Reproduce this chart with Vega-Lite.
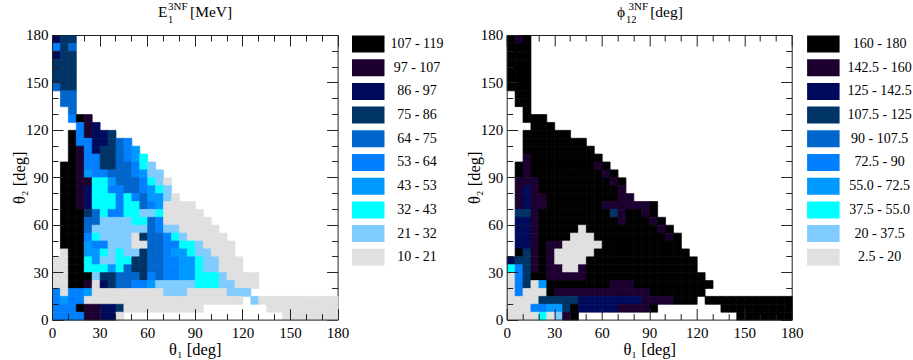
{"$schema":"https://vega.github.io/schema/vega-lite/v6.json","background":"white","padding":{"left":11,"top":0,"right":0,"bottom":0},"config":{"font":"Liberation Serif","view":{"stroke":null}},"spacing":168.7,"bounds":"flush","resolve":{"scale":{"fill":"independent","stroke":"independent"},"legend":{"fill":"independent"}},
"datasets":{"energy":[
{"x":0,"y":175,"c":"C"},{"x":5,"y":175,"c":"D"},{"x":10,"y":175,"c":"D"},
{"x":0,"y":170,"c":"F"},{"x":5,"y":170,"c":"D"},{"x":10,"y":170,"c":"E"},
{"x":0,"y":165,"c":"C"},{"x":5,"y":165,"c":"D"},{"x":10,"y":165,"c":"D"},
{"x":0,"y":160,"c":"D"},{"x":5,"y":160,"c":"D"},{"x":10,"y":160,"c":"D"},
{"x":0,"y":155,"c":"D"},{"x":5,"y":155,"c":"D"},{"x":10,"y":155,"c":"D"},
{"x":0,"y":150,"c":"D"},{"x":5,"y":150,"c":"D"},{"x":10,"y":150,"c":"D"},
{"x":0,"y":145,"c":"E"},{"x":5,"y":145,"c":"D"},{"x":10,"y":145,"c":"D"},
{"x":5,"y":140,"c":"E"},{"x":10,"y":140,"c":"E"},
{"x":5,"y":135,"c":"E"},{"x":10,"y":135,"c":"E"},
{"x":10,"y":130,"c":"E"},
{"x":10,"y":125,"c":"F"},{"x":15,"y":125,"c":"A"},{"x":20,"y":125,"c":"B"},
{"x":15,"y":120,"c":"F"},{"x":20,"y":120,"c":"B"},{"x":25,"y":120,"c":"C"},
{"x":10,"y":115,"c":"A"},{"x":15,"y":115,"c":"F"},{"x":20,"y":115,"c":"B"},{"x":25,"y":115,"c":"C"},{"x":30,"y":115,"c":"C"},{"x":35,"y":115,"c":"D"},
{"x":10,"y":110,"c":"A"},{"x":15,"y":110,"c":"F"},{"x":20,"y":110,"c":"F"},{"x":25,"y":110,"c":"C"},{"x":30,"y":110,"c":"C"},{"x":35,"y":110,"c":"D"},{"x":40,"y":110,"c":"E"},{"x":45,"y":110,"c":"F"},
{"x":10,"y":105,"c":"A"},{"x":15,"y":105,"c":"B"},{"x":20,"y":105,"c":"F"},{"x":25,"y":105,"c":"C"},{"x":30,"y":105,"c":"D"},{"x":35,"y":105,"c":"D"},{"x":40,"y":105,"c":"E"},{"x":45,"y":105,"c":"F"},{"x":50,"y":105,"c":"G"},
{"x":10,"y":100,"c":"A"},{"x":15,"y":100,"c":"B"},{"x":20,"y":100,"c":"F"},{"x":25,"y":100,"c":"F"},{"x":30,"y":100,"c":"D"},{"x":35,"y":100,"c":"D"},{"x":40,"y":100,"c":"E"},{"x":45,"y":100,"c":"F"},{"x":50,"y":100,"c":"G"},{"x":55,"y":100,"c":"H"},
{"x":5,"y":95,"c":"A"},{"x":10,"y":95,"c":"A"},{"x":15,"y":95,"c":"B"},{"x":20,"y":95,"c":"F"},{"x":25,"y":95,"c":"F"},{"x":30,"y":95,"c":"D"},{"x":35,"y":95,"c":"D"},{"x":40,"y":95,"c":"E"},{"x":45,"y":95,"c":"E"},{"x":50,"y":95,"c":"F"},{"x":55,"y":95,"c":"H"},{"x":60,"y":95,"c":"I"},
{"x":5,"y":90,"c":"A"},{"x":10,"y":90,"c":"A"},{"x":15,"y":90,"c":"B"},{"x":20,"y":90,"c":"G"},{"x":25,"y":90,"c":"F"},{"x":30,"y":90,"c":"F"},{"x":35,"y":90,"c":"E"},{"x":40,"y":90,"c":"E"},{"x":45,"y":90,"c":"E"},{"x":50,"y":90,"c":"F"},{"x":55,"y":90,"c":"G"},{"x":60,"y":90,"c":"I"},{"x":65,"y":90,"c":"I"},
{"x":5,"y":85,"c":"A"},{"x":10,"y":85,"c":"A"},{"x":15,"y":85,"c":"B"},{"x":20,"y":85,"c":"B"},{"x":25,"y":85,"c":"H"},{"x":30,"y":85,"c":"H"},{"x":35,"y":85,"c":"G"},{"x":40,"y":85,"c":"E"},{"x":45,"y":85,"c":"E"},{"x":50,"y":85,"c":"E"},{"x":55,"y":85,"c":"F"},{"x":60,"y":85,"c":"H"},{"x":65,"y":85,"c":"I"},{"x":70,"y":85,"c":"J"},
{"x":5,"y":80,"c":"A"},{"x":10,"y":80,"c":"A"},{"x":15,"y":80,"c":"B"},{"x":20,"y":80,"c":"C"},{"x":25,"y":80,"c":"H"},{"x":30,"y":80,"c":"H"},{"x":35,"y":80,"c":"F"},{"x":40,"y":80,"c":"F"},{"x":45,"y":80,"c":"E"},{"x":50,"y":80,"c":"E"},{"x":55,"y":80,"c":"F"},{"x":60,"y":80,"c":"G"},{"x":65,"y":80,"c":"H"},{"x":70,"y":80,"c":"I"},
{"x":5,"y":75,"c":"A"},{"x":10,"y":75,"c":"A"},{"x":15,"y":75,"c":"B"},{"x":20,"y":75,"c":"C"},{"x":25,"y":75,"c":"H"},{"x":30,"y":75,"c":"H"},{"x":35,"y":75,"c":"H"},{"x":40,"y":75,"c":"F"},{"x":45,"y":75,"c":"H"},{"x":50,"y":75,"c":"F"},{"x":55,"y":75,"c":"E"},{"x":60,"y":75,"c":"G"},{"x":65,"y":75,"c":"G"},{"x":70,"y":75,"c":"I"},{"x":75,"y":75,"c":"J"},
{"x":5,"y":70,"c":"A"},{"x":10,"y":70,"c":"A"},{"x":15,"y":70,"c":"B"},{"x":20,"y":70,"c":"C"},{"x":25,"y":70,"c":"H"},{"x":30,"y":70,"c":"H"},{"x":35,"y":70,"c":"H"},{"x":40,"y":70,"c":"F"},{"x":45,"y":70,"c":"H"},{"x":50,"y":70,"c":"H"},{"x":55,"y":70,"c":"E"},{"x":60,"y":70,"c":"F"},{"x":65,"y":70,"c":"G"},{"x":70,"y":70,"c":"J"},{"x":75,"y":70,"c":"J"},{"x":80,"y":70,"c":"J"},{"x":85,"y":70,"c":"J"},
{"x":5,"y":65,"c":"A"},{"x":10,"y":65,"c":"A"},{"x":15,"y":65,"c":"A"},{"x":20,"y":65,"c":"D"},{"x":25,"y":65,"c":"E"},{"x":30,"y":65,"c":"H"},{"x":35,"y":65,"c":"F"},{"x":40,"y":65,"c":"F"},{"x":45,"y":65,"c":"H"},{"x":50,"y":65,"c":"H"},{"x":55,"y":65,"c":"I"},{"x":60,"y":65,"c":"I"},{"x":65,"y":65,"c":"H"},{"x":70,"y":65,"c":"J"},{"x":75,"y":65,"c":"J"},{"x":80,"y":65,"c":"J"},{"x":85,"y":65,"c":"J"},{"x":90,"y":65,"c":"J"},
{"x":5,"y":60,"c":"A"},{"x":10,"y":60,"c":"A"},{"x":15,"y":60,"c":"A"},{"x":20,"y":60,"c":"E"},{"x":25,"y":60,"c":"E"},{"x":30,"y":60,"c":"I"},{"x":35,"y":60,"c":"I"},{"x":40,"y":60,"c":"I"},{"x":45,"y":60,"c":"I"},{"x":50,"y":60,"c":"H"},{"x":55,"y":60,"c":"H"},{"x":60,"y":60,"c":"E"},{"x":65,"y":60,"c":"F"},{"x":70,"y":60,"c":"J"},{"x":75,"y":60,"c":"J"},{"x":80,"y":60,"c":"J"},{"x":85,"y":60,"c":"J"},{"x":90,"y":60,"c":"J"},{"x":95,"y":60,"c":"J"},
{"x":5,"y":55,"c":"A"},{"x":10,"y":55,"c":"A"},{"x":15,"y":55,"c":"A"},{"x":20,"y":55,"c":"E"},{"x":25,"y":55,"c":"I"},{"x":30,"y":55,"c":"I"},{"x":35,"y":55,"c":"I"},{"x":40,"y":55,"c":"I"},{"x":45,"y":55,"c":"I"},{"x":50,"y":55,"c":"I"},{"x":55,"y":55,"c":"I"},{"x":60,"y":55,"c":"E"},{"x":65,"y":55,"c":"F"},{"x":70,"y":55,"c":"I"},{"x":75,"y":55,"c":"I"},{"x":80,"y":55,"c":"J"},{"x":85,"y":55,"c":"J"},{"x":90,"y":55,"c":"J"},{"x":95,"y":55,"c":"J"},{"x":100,"y":55,"c":"J"},
{"x":5,"y":50,"c":"A"},{"x":10,"y":50,"c":"A"},{"x":15,"y":50,"c":"A"},{"x":20,"y":50,"c":"F"},{"x":25,"y":50,"c":"H"},{"x":30,"y":50,"c":"I"},{"x":35,"y":50,"c":"I"},{"x":40,"y":50,"c":"I"},{"x":45,"y":50,"c":"I"},{"x":50,"y":50,"c":"J"},{"x":55,"y":50,"c":"D"},{"x":60,"y":50,"c":"E"},{"x":65,"y":50,"c":"E"},{"x":70,"y":50,"c":"F"},{"x":75,"y":50,"c":"H"},{"x":80,"y":50,"c":"I"},{"x":85,"y":50,"c":"J"},{"x":90,"y":50,"c":"J"},{"x":95,"y":50,"c":"J"},{"x":100,"y":50,"c":"J"},{"x":105,"y":50,"c":"J"},
{"x":5,"y":45,"c":"A"},{"x":10,"y":45,"c":"A"},{"x":15,"y":45,"c":"A"},{"x":20,"y":45,"c":"G"},{"x":25,"y":45,"c":"F"},{"x":30,"y":45,"c":"F"},{"x":35,"y":45,"c":"I"},{"x":40,"y":45,"c":"I"},{"x":45,"y":45,"c":"I"},{"x":50,"y":45,"c":"J"},{"x":55,"y":45,"c":"J"},{"x":60,"y":45,"c":"E"},{"x":65,"y":45,"c":"E"},{"x":70,"y":45,"c":"F"},{"x":75,"y":45,"c":"F"},{"x":80,"y":45,"c":"H"},{"x":85,"y":45,"c":"H"},{"x":90,"y":45,"c":"I"},{"x":95,"y":45,"c":"J"},{"x":100,"y":45,"c":"J"},{"x":105,"y":45,"c":"J"},{"x":110,"y":45,"c":"J"},
{"x":5,"y":40,"c":"J"},{"x":10,"y":40,"c":"A"},{"x":15,"y":40,"c":"A"},{"x":20,"y":40,"c":"G"},{"x":25,"y":40,"c":"G"},{"x":30,"y":40,"c":"H"},{"x":35,"y":40,"c":"I"},{"x":40,"y":40,"c":"H"},{"x":45,"y":40,"c":"I"},{"x":50,"y":40,"c":"I"},{"x":55,"y":40,"c":"D"},{"x":60,"y":40,"c":"E"},{"x":65,"y":40,"c":"E"},{"x":70,"y":40,"c":"F"},{"x":75,"y":40,"c":"G"},{"x":80,"y":40,"c":"G"},{"x":85,"y":40,"c":"H"},{"x":90,"y":40,"c":"I"},{"x":95,"y":40,"c":"I"},{"x":100,"y":40,"c":"J"},{"x":105,"y":40,"c":"J"},{"x":110,"y":40,"c":"J"},
{"x":0,"y":35,"c":"J"},{"x":5,"y":35,"c":"J"},{"x":10,"y":35,"c":"A"},{"x":15,"y":35,"c":"A"},{"x":20,"y":35,"c":"H"},{"x":25,"y":35,"c":"G"},{"x":30,"y":35,"c":"I"},{"x":35,"y":35,"c":"I"},{"x":40,"y":35,"c":"H"},{"x":45,"y":35,"c":"H"},{"x":50,"y":35,"c":"D"},{"x":55,"y":35,"c":"D"},{"x":60,"y":35,"c":"E"},{"x":65,"y":35,"c":"E"},{"x":70,"y":35,"c":"F"},{"x":75,"y":35,"c":"F"},{"x":80,"y":35,"c":"G"},{"x":85,"y":35,"c":"G"},{"x":90,"y":35,"c":"H"},{"x":95,"y":35,"c":"I"},{"x":100,"y":35,"c":"I"},{"x":105,"y":35,"c":"J"},{"x":110,"y":35,"c":"J"},{"x":115,"y":35,"c":"J"},
{"x":0,"y":30,"c":"J"},{"x":5,"y":30,"c":"J"},{"x":10,"y":30,"c":"A"},{"x":15,"y":30,"c":"A"},{"x":20,"y":30,"c":"H"},{"x":25,"y":30,"c":"H"},{"x":30,"y":30,"c":"H"},{"x":35,"y":30,"c":"G"},{"x":40,"y":30,"c":"H"},{"x":45,"y":30,"c":"E"},{"x":50,"y":30,"c":"D"},{"x":55,"y":30,"c":"D"},{"x":60,"y":30,"c":"E"},{"x":65,"y":30,"c":"E"},{"x":70,"y":30,"c":"F"},{"x":75,"y":30,"c":"F"},{"x":80,"y":30,"c":"G"},{"x":85,"y":30,"c":"G"},{"x":90,"y":30,"c":"H"},{"x":95,"y":30,"c":"I"},{"x":100,"y":30,"c":"I"},{"x":105,"y":30,"c":"J"},{"x":110,"y":30,"c":"J"},{"x":115,"y":30,"c":"J"},
{"x":0,"y":25,"c":"J"},{"x":5,"y":25,"c":"J"},{"x":10,"y":25,"c":"A"},{"x":15,"y":25,"c":"A"},{"x":20,"y":25,"c":"A"},{"x":25,"y":25,"c":"I"},{"x":30,"y":25,"c":"D"},{"x":35,"y":25,"c":"D"},{"x":40,"y":25,"c":"E"},{"x":45,"y":25,"c":"E"},{"x":50,"y":25,"c":"E"},{"x":55,"y":25,"c":"D"},{"x":60,"y":25,"c":"F"},{"x":65,"y":25,"c":"E"},{"x":70,"y":25,"c":"F"},{"x":75,"y":25,"c":"F"},{"x":80,"y":25,"c":"G"},{"x":85,"y":25,"c":"G"},{"x":90,"y":25,"c":"H"},{"x":95,"y":25,"c":"H"},{"x":100,"y":25,"c":"H"},{"x":105,"y":25,"c":"I"},{"x":110,"y":25,"c":"J"},{"x":115,"y":25,"c":"J"},{"x":120,"y":25,"c":"J"},{"x":125,"y":25,"c":"J"},
{"x":0,"y":20,"c":"J"},{"x":5,"y":20,"c":"J"},{"x":10,"y":20,"c":"A"},{"x":15,"y":20,"c":"A"},{"x":20,"y":20,"c":"B"},{"x":25,"y":20,"c":"J"},{"x":30,"y":20,"c":"C"},{"x":35,"y":20,"c":"D"},{"x":40,"y":20,"c":"E"},{"x":45,"y":20,"c":"E"},{"x":50,"y":20,"c":"F"},{"x":55,"y":20,"c":"F"},{"x":60,"y":20,"c":"G"},{"x":65,"y":20,"c":"I"},{"x":70,"y":20,"c":"I"},{"x":75,"y":20,"c":"I"},{"x":80,"y":20,"c":"I"},{"x":85,"y":20,"c":"I"},{"x":90,"y":20,"c":"H"},{"x":95,"y":20,"c":"H"},{"x":100,"y":20,"c":"H"},{"x":105,"y":20,"c":"I"},{"x":110,"y":20,"c":"I"},{"x":115,"y":20,"c":"J"},{"x":120,"y":20,"c":"J"},{"x":125,"y":20,"c":"J"},
{"x":0,"y":15,"c":"F"},{"x":5,"y":15,"c":"J"},{"x":10,"y":15,"c":"F"},{"x":15,"y":15,"c":"F"},{"x":20,"y":15,"c":"G"},{"x":25,"y":15,"c":"J"},{"x":30,"y":15,"c":"J"},{"x":35,"y":15,"c":"J"},{"x":40,"y":15,"c":"J"},{"x":45,"y":15,"c":"J"},{"x":50,"y":15,"c":"J"},{"x":55,"y":15,"c":"J"},{"x":60,"y":15,"c":"J"},{"x":65,"y":15,"c":"J"},{"x":70,"y":15,"c":"I"},{"x":75,"y":15,"c":"I"},{"x":80,"y":15,"c":"I"},{"x":85,"y":15,"c":"J"},{"x":90,"y":15,"c":"J"},{"x":95,"y":15,"c":"J"},{"x":100,"y":15,"c":"J"},{"x":105,"y":15,"c":"J"},{"x":110,"y":15,"c":"I"},{"x":115,"y":15,"c":"I"},{"x":120,"y":15,"c":"I"},
{"x":0,"y":10,"c":"F"},{"x":5,"y":10,"c":"G"},{"x":10,"y":10,"c":"F"},{"x":15,"y":10,"c":"F"},{"x":20,"y":10,"c":"J"},{"x":25,"y":10,"c":"J"},{"x":30,"y":10,"c":"J"},{"x":35,"y":10,"c":"J"},{"x":40,"y":10,"c":"J"},{"x":45,"y":10,"c":"J"},{"x":50,"y":10,"c":"J"},{"x":55,"y":10,"c":"J"},{"x":60,"y":10,"c":"J"},{"x":65,"y":10,"c":"J"},{"x":70,"y":10,"c":"J"},{"x":75,"y":10,"c":"J"},{"x":80,"y":10,"c":"J"},{"x":85,"y":10,"c":"J"},{"x":90,"y":10,"c":"J"},{"x":95,"y":10,"c":"J"},{"x":100,"y":10,"c":"J"},{"x":105,"y":10,"c":"J"},{"x":110,"y":10,"c":"J"},{"x":115,"y":10,"c":"J"},{"x":125,"y":10,"c":"I"},{"x":130,"y":10,"c":"J"},{"x":135,"y":10,"c":"J"},{"x":140,"y":10,"c":"J"},{"x":145,"y":10,"c":"J"},{"x":150,"y":10,"c":"J"},{"x":155,"y":10,"c":"J"},{"x":160,"y":10,"c":"J"},{"x":165,"y":10,"c":"J"},{"x":170,"y":10,"c":"J"},{"x":175,"y":10,"c":"J"},
{"x":0,"y":5,"c":"F"},{"x":5,"y":5,"c":"F"},{"x":10,"y":5,"c":"F"},{"x":15,"y":5,"c":"A"},{"x":20,"y":5,"c":"B"},{"x":25,"y":5,"c":"B"},{"x":30,"y":5,"c":"C"},{"x":35,"y":5,"c":"C"},{"x":40,"y":5,"c":"D"},{"x":45,"y":5,"c":"J"},{"x":50,"y":5,"c":"J"},{"x":55,"y":5,"c":"J"},{"x":60,"y":5,"c":"J"},{"x":65,"y":5,"c":"J"},{"x":70,"y":5,"c":"J"},{"x":75,"y":5,"c":"J"},{"x":80,"y":5,"c":"J"},{"x":85,"y":5,"c":"J"},{"x":90,"y":5,"c":"J"},{"x":135,"y":5,"c":"J"},{"x":140,"y":5,"c":"J"},{"x":145,"y":5,"c":"J"},{"x":150,"y":5,"c":"J"},{"x":155,"y":5,"c":"J"},{"x":160,"y":5,"c":"J"},{"x":165,"y":5,"c":"J"},{"x":170,"y":5,"c":"J"},{"x":175,"y":5,"c":"J"},
{"x":0,"y":0,"c":"F"},{"x":5,"y":0,"c":"F"},{"x":10,"y":0,"c":"F"},{"x":15,"y":0,"c":"F"},{"x":20,"y":0,"c":"B"},{"x":25,"y":0,"c":"B"},{"x":30,"y":0,"c":"C"},{"x":35,"y":0,"c":"C"},{"x":40,"y":0,"c":"J"},{"x":145,"y":0,"c":"J"},{"x":150,"y":0,"c":"J"},{"x":155,"y":0,"c":"J"},{"x":160,"y":0,"c":"J"},{"x":165,"y":0,"c":"J"},{"x":170,"y":0,"c":"J"},{"x":175,"y":0,"c":"J"}
],"phi":[
{"x":0,"y":175,"c":"A"},{"x":5,"y":175,"c":"B"},{"x":10,"y":175,"c":"A"},
{"x":0,"y":170,"c":"A"},{"x":5,"y":170,"c":"A"},{"x":10,"y":170,"c":"A"},
{"x":0,"y":165,"c":"A"},{"x":5,"y":165,"c":"A"},{"x":10,"y":165,"c":"A"},
{"x":0,"y":160,"c":"A"},{"x":5,"y":160,"c":"A"},{"x":10,"y":160,"c":"A"},
{"x":0,"y":155,"c":"A"},{"x":5,"y":155,"c":"A"},{"x":10,"y":155,"c":"A"},
{"x":0,"y":150,"c":"A"},{"x":5,"y":150,"c":"A"},{"x":10,"y":150,"c":"A"},
{"x":0,"y":145,"c":"A"},{"x":5,"y":145,"c":"A"},{"x":10,"y":145,"c":"A"},
{"x":5,"y":140,"c":"A"},{"x":10,"y":140,"c":"A"},
{"x":5,"y":135,"c":"A"},{"x":10,"y":135,"c":"A"},
{"x":10,"y":130,"c":"A"},
{"x":10,"y":125,"c":"A"},{"x":15,"y":125,"c":"A"},{"x":20,"y":125,"c":"A"},
{"x":15,"y":120,"c":"A"},{"x":20,"y":120,"c":"A"},{"x":25,"y":120,"c":"A"},
{"x":10,"y":115,"c":"A"},{"x":15,"y":115,"c":"A"},{"x":20,"y":115,"c":"A"},{"x":25,"y":115,"c":"A"},{"x":30,"y":115,"c":"A"},{"x":35,"y":115,"c":"A"},
{"x":10,"y":110,"c":"A"},{"x":15,"y":110,"c":"A"},{"x":20,"y":110,"c":"A"},{"x":25,"y":110,"c":"A"},{"x":30,"y":110,"c":"A"},{"x":35,"y":110,"c":"A"},{"x":40,"y":110,"c":"A"},{"x":45,"y":110,"c":"A"},
{"x":10,"y":105,"c":"A"},{"x":15,"y":105,"c":"A"},{"x":20,"y":105,"c":"A"},{"x":25,"y":105,"c":"A"},{"x":30,"y":105,"c":"A"},{"x":35,"y":105,"c":"A"},{"x":40,"y":105,"c":"A"},{"x":45,"y":105,"c":"A"},{"x":50,"y":105,"c":"A"},
{"x":10,"y":100,"c":"B"},{"x":15,"y":100,"c":"A"},{"x":20,"y":100,"c":"A"},{"x":25,"y":100,"c":"A"},{"x":30,"y":100,"c":"A"},{"x":35,"y":100,"c":"A"},{"x":40,"y":100,"c":"A"},{"x":45,"y":100,"c":"A"},{"x":50,"y":100,"c":"A"},{"x":55,"y":100,"c":"A"},
{"x":5,"y":95,"c":"A"},{"x":10,"y":95,"c":"B"},{"x":15,"y":95,"c":"A"},{"x":20,"y":95,"c":"A"},{"x":25,"y":95,"c":"A"},{"x":30,"y":95,"c":"A"},{"x":35,"y":95,"c":"A"},{"x":40,"y":95,"c":"A"},{"x":45,"y":95,"c":"A"},{"x":50,"y":95,"c":"A"},{"x":55,"y":95,"c":"B"},{"x":60,"y":95,"c":"A"},
{"x":5,"y":90,"c":"A"},{"x":10,"y":90,"c":"B"},{"x":15,"y":90,"c":"A"},{"x":20,"y":90,"c":"A"},{"x":25,"y":90,"c":"A"},{"x":30,"y":90,"c":"A"},{"x":35,"y":90,"c":"A"},{"x":40,"y":90,"c":"A"},{"x":45,"y":90,"c":"A"},{"x":50,"y":90,"c":"A"},{"x":55,"y":90,"c":"A"},{"x":60,"y":90,"c":"B"},{"x":65,"y":90,"c":"A"},
{"x":5,"y":85,"c":"B"},{"x":10,"y":85,"c":"B"},{"x":15,"y":85,"c":"B"},{"x":20,"y":85,"c":"A"},{"x":25,"y":85,"c":"A"},{"x":30,"y":85,"c":"A"},{"x":35,"y":85,"c":"A"},{"x":40,"y":85,"c":"A"},{"x":45,"y":85,"c":"A"},{"x":50,"y":85,"c":"A"},{"x":55,"y":85,"c":"A"},{"x":60,"y":85,"c":"A"},{"x":65,"y":85,"c":"B"},{"x":70,"y":85,"c":"A"},
{"x":5,"y":80,"c":"B"},{"x":10,"y":80,"c":"C"},{"x":15,"y":80,"c":"B"},{"x":20,"y":80,"c":"A"},{"x":25,"y":80,"c":"A"},{"x":30,"y":80,"c":"A"},{"x":35,"y":80,"c":"A"},{"x":40,"y":80,"c":"A"},{"x":45,"y":80,"c":"A"},{"x":50,"y":80,"c":"A"},{"x":55,"y":80,"c":"A"},{"x":60,"y":80,"c":"A"},{"x":65,"y":80,"c":"A"},{"x":70,"y":80,"c":"B"},
{"x":5,"y":75,"c":"B"},{"x":10,"y":75,"c":"C"},{"x":15,"y":75,"c":"B"},{"x":20,"y":75,"c":"B"},{"x":25,"y":75,"c":"A"},{"x":30,"y":75,"c":"A"},{"x":35,"y":75,"c":"A"},{"x":40,"y":75,"c":"A"},{"x":45,"y":75,"c":"A"},{"x":50,"y":75,"c":"A"},{"x":55,"y":75,"c":"A"},{"x":60,"y":75,"c":"A"},{"x":65,"y":75,"c":"A"},{"x":70,"y":75,"c":"B"},{"x":75,"y":75,"c":"B"},
{"x":5,"y":70,"c":"B"},{"x":10,"y":70,"c":"C"},{"x":15,"y":70,"c":"B"},{"x":20,"y":70,"c":"B"},{"x":25,"y":70,"c":"A"},{"x":30,"y":70,"c":"A"},{"x":35,"y":70,"c":"A"},{"x":40,"y":70,"c":"A"},{"x":45,"y":70,"c":"A"},{"x":50,"y":70,"c":"A"},{"x":55,"y":70,"c":"A"},{"x":60,"y":70,"c":"B"},{"x":65,"y":70,"c":"B"},{"x":70,"y":70,"c":"B"},{"x":75,"y":70,"c":"B"},{"x":80,"y":70,"c":"B"},{"x":85,"y":70,"c":"B"},{"x":90,"y":70,"c":"A"},
{"x":5,"y":65,"c":"D"},{"x":10,"y":65,"c":"D"},{"x":15,"y":65,"c":"B"},{"x":20,"y":65,"c":"A"},{"x":25,"y":65,"c":"A"},{"x":30,"y":65,"c":"A"},{"x":35,"y":65,"c":"A"},{"x":40,"y":65,"c":"A"},{"x":45,"y":65,"c":"A"},{"x":50,"y":65,"c":"A"},{"x":55,"y":65,"c":"A"},{"x":60,"y":65,"c":"A"},{"x":65,"y":65,"c":"D"},{"x":70,"y":65,"c":"B"},{"x":75,"y":65,"c":"A"},{"x":80,"y":65,"c":"A"},{"x":85,"y":65,"c":"B"},{"x":90,"y":65,"c":"A"},
{"x":5,"y":60,"c":"C"},{"x":10,"y":60,"c":"C"},{"x":15,"y":60,"c":"B"},{"x":20,"y":60,"c":"A"},{"x":25,"y":60,"c":"A"},{"x":30,"y":60,"c":"A"},{"x":35,"y":60,"c":"A"},{"x":40,"y":60,"c":"A"},{"x":45,"y":60,"c":"A"},{"x":50,"y":60,"c":"A"},{"x":55,"y":60,"c":"A"},{"x":60,"y":60,"c":"A"},{"x":65,"y":60,"c":"A"},{"x":70,"y":60,"c":"B"},{"x":75,"y":60,"c":"A"},{"x":80,"y":60,"c":"A"},{"x":85,"y":60,"c":"A"},{"x":90,"y":60,"c":"B"},{"x":95,"y":60,"c":"A"},
{"x":5,"y":55,"c":"C"},{"x":10,"y":55,"c":"C"},{"x":15,"y":55,"c":"B"},{"x":20,"y":55,"c":"A"},{"x":25,"y":55,"c":"A"},{"x":30,"y":55,"c":"A"},{"x":35,"y":55,"c":"A"},{"x":40,"y":55,"c":"A"},{"x":45,"y":55,"c":"J"},{"x":50,"y":55,"c":"A"},{"x":55,"y":55,"c":"A"},{"x":60,"y":55,"c":"A"},{"x":65,"y":55,"c":"A"},{"x":70,"y":55,"c":"A"},{"x":75,"y":55,"c":"A"},{"x":80,"y":55,"c":"A"},{"x":85,"y":55,"c":"A"},{"x":90,"y":55,"c":"A"},{"x":95,"y":55,"c":"B"},{"x":100,"y":55,"c":"A"},
{"x":5,"y":50,"c":"C"},{"x":10,"y":50,"c":"C"},{"x":15,"y":50,"c":"B"},{"x":20,"y":50,"c":"A"},{"x":25,"y":50,"c":"A"},{"x":30,"y":50,"c":"A"},{"x":35,"y":50,"c":"A"},{"x":40,"y":50,"c":"J"},{"x":45,"y":50,"c":"J"},{"x":50,"y":50,"c":"J"},{"x":55,"y":50,"c":"A"},{"x":60,"y":50,"c":"A"},{"x":65,"y":50,"c":"A"},{"x":70,"y":50,"c":"A"},{"x":75,"y":50,"c":"A"},{"x":80,"y":50,"c":"A"},{"x":85,"y":50,"c":"A"},{"x":90,"y":50,"c":"A"},{"x":95,"y":50,"c":"A"},{"x":100,"y":50,"c":"B"},{"x":105,"y":50,"c":"A"},
{"x":5,"y":45,"c":"C"},{"x":10,"y":45,"c":"C"},{"x":15,"y":45,"c":"B"},{"x":20,"y":45,"c":"A"},{"x":25,"y":45,"c":"B"},{"x":30,"y":45,"c":"B"},{"x":35,"y":45,"c":"J"},{"x":40,"y":45,"c":"J"},{"x":45,"y":45,"c":"J"},{"x":50,"y":45,"c":"J"},{"x":55,"y":45,"c":"J"},{"x":60,"y":45,"c":"A"},{"x":65,"y":45,"c":"A"},{"x":70,"y":45,"c":"A"},{"x":75,"y":45,"c":"A"},{"x":80,"y":45,"c":"A"},{"x":85,"y":45,"c":"A"},{"x":90,"y":45,"c":"A"},{"x":95,"y":45,"c":"A"},{"x":100,"y":45,"c":"A"},{"x":105,"y":45,"c":"A"},
{"x":5,"y":40,"c":"A"},{"x":10,"y":40,"c":"D"},{"x":15,"y":40,"c":"B"},{"x":20,"y":40,"c":"A"},{"x":25,"y":40,"c":"B"},{"x":30,"y":40,"c":"J"},{"x":35,"y":40,"c":"J"},{"x":40,"y":40,"c":"J"},{"x":45,"y":40,"c":"J"},{"x":50,"y":40,"c":"J"},{"x":55,"y":40,"c":"A"},{"x":60,"y":40,"c":"A"},{"x":65,"y":40,"c":"A"},{"x":70,"y":40,"c":"A"},{"x":75,"y":40,"c":"A"},{"x":80,"y":40,"c":"A"},{"x":85,"y":40,"c":"A"},{"x":90,"y":40,"c":"A"},{"x":95,"y":40,"c":"A"},{"x":100,"y":40,"c":"A"},{"x":105,"y":40,"c":"A"},{"x":110,"y":40,"c":"A"},
{"x":0,"y":35,"c":"C"},{"x":5,"y":35,"c":"D"},{"x":10,"y":35,"c":"D"},{"x":15,"y":35,"c":"B"},{"x":20,"y":35,"c":"A"},{"x":25,"y":35,"c":"B"},{"x":30,"y":35,"c":"J"},{"x":35,"y":35,"c":"J"},{"x":40,"y":35,"c":"J"},{"x":45,"y":35,"c":"J"},{"x":50,"y":35,"c":"A"},{"x":55,"y":35,"c":"A"},{"x":60,"y":35,"c":"A"},{"x":65,"y":35,"c":"A"},{"x":70,"y":35,"c":"A"},{"x":75,"y":35,"c":"A"},{"x":80,"y":35,"c":"A"},{"x":85,"y":35,"c":"A"},{"x":90,"y":35,"c":"A"},{"x":95,"y":35,"c":"A"},{"x":100,"y":35,"c":"A"},{"x":105,"y":35,"c":"A"},{"x":110,"y":35,"c":"A"},{"x":115,"y":35,"c":"A"},
{"x":0,"y":30,"c":"H"},{"x":5,"y":30,"c":"F"},{"x":10,"y":30,"c":"D"},{"x":15,"y":30,"c":"B"},{"x":20,"y":30,"c":"A"},{"x":25,"y":30,"c":"B"},{"x":30,"y":30,"c":"B"},{"x":35,"y":30,"c":"J"},{"x":40,"y":30,"c":"J"},{"x":45,"y":30,"c":"B"},{"x":50,"y":30,"c":"A"},{"x":55,"y":30,"c":"A"},{"x":60,"y":30,"c":"A"},{"x":65,"y":30,"c":"A"},{"x":70,"y":30,"c":"A"},{"x":75,"y":30,"c":"A"},{"x":80,"y":30,"c":"A"},{"x":85,"y":30,"c":"A"},{"x":90,"y":30,"c":"A"},{"x":95,"y":30,"c":"A"},{"x":100,"y":30,"c":"A"},{"x":105,"y":30,"c":"A"},{"x":110,"y":30,"c":"A"},{"x":115,"y":30,"c":"A"},
{"x":0,"y":25,"c":"J"},{"x":5,"y":25,"c":"F"},{"x":10,"y":25,"c":"D"},{"x":15,"y":25,"c":"A"},{"x":20,"y":25,"c":"A"},{"x":25,"y":25,"c":"B"},{"x":30,"y":25,"c":"B"},{"x":35,"y":25,"c":"B"},{"x":40,"y":25,"c":"B"},{"x":45,"y":25,"c":"B"},{"x":50,"y":25,"c":"A"},{"x":55,"y":25,"c":"A"},{"x":60,"y":25,"c":"A"},{"x":65,"y":25,"c":"A"},{"x":70,"y":25,"c":"A"},{"x":75,"y":25,"c":"A"},{"x":80,"y":25,"c":"A"},{"x":85,"y":25,"c":"A"},{"x":90,"y":25,"c":"A"},{"x":95,"y":25,"c":"A"},{"x":100,"y":25,"c":"A"},{"x":105,"y":25,"c":"A"},{"x":110,"y":25,"c":"A"},{"x":115,"y":25,"c":"A"},{"x":120,"y":25,"c":"A"},
{"x":0,"y":20,"c":"J"},{"x":5,"y":20,"c":"F"},{"x":10,"y":20,"c":"D"},{"x":15,"y":20,"c":"J"},{"x":20,"y":20,"c":"G"},{"x":25,"y":20,"c":"A"},{"x":30,"y":20,"c":"A"},{"x":35,"y":20,"c":"A"},{"x":40,"y":20,"c":"A"},{"x":45,"y":20,"c":"A"},{"x":50,"y":20,"c":"A"},{"x":55,"y":20,"c":"A"},{"x":60,"y":20,"c":"A"},{"x":65,"y":20,"c":"B"},{"x":70,"y":20,"c":"B"},{"x":75,"y":20,"c":"B"},{"x":80,"y":20,"c":"A"},{"x":85,"y":20,"c":"A"},{"x":90,"y":20,"c":"A"},{"x":95,"y":20,"c":"A"},{"x":100,"y":20,"c":"A"},{"x":105,"y":20,"c":"A"},{"x":110,"y":20,"c":"A"},{"x":115,"y":20,"c":"A"},{"x":120,"y":20,"c":"A"},{"x":125,"y":20,"c":"A"},
{"x":0,"y":15,"c":"J"},{"x":5,"y":15,"c":"F"},{"x":10,"y":15,"c":"J"},{"x":15,"y":15,"c":"J"},{"x":20,"y":15,"c":"J"},{"x":25,"y":15,"c":"A"},{"x":30,"y":15,"c":"B"},{"x":35,"y":15,"c":"B"},{"x":40,"y":15,"c":"B"},{"x":45,"y":15,"c":"B"},{"x":50,"y":15,"c":"B"},{"x":55,"y":15,"c":"B"},{"x":60,"y":15,"c":"B"},{"x":65,"y":15,"c":"B"},{"x":70,"y":15,"c":"B"},{"x":75,"y":15,"c":"B"},{"x":80,"y":15,"c":"B"},{"x":85,"y":15,"c":"B"},{"x":90,"y":15,"c":"A"},{"x":95,"y":15,"c":"A"},{"x":100,"y":15,"c":"A"},{"x":105,"y":15,"c":"A"},{"x":110,"y":15,"c":"A"},{"x":115,"y":15,"c":"A"},{"x":120,"y":15,"c":"A"},
{"x":0,"y":10,"c":"J"},{"x":5,"y":10,"c":"J"},{"x":10,"y":10,"c":"J"},{"x":15,"y":10,"c":"J"},{"x":20,"y":10,"c":"D"},{"x":25,"y":10,"c":"D"},{"x":30,"y":10,"c":"D"},{"x":35,"y":10,"c":"D"},{"x":40,"y":10,"c":"D"},{"x":45,"y":10,"c":"C"},{"x":50,"y":10,"c":"C"},{"x":55,"y":10,"c":"C"},{"x":60,"y":10,"c":"C"},{"x":65,"y":10,"c":"C"},{"x":70,"y":10,"c":"C"},{"x":75,"y":10,"c":"C"},{"x":80,"y":10,"c":"C"},{"x":85,"y":10,"c":"B"},{"x":90,"y":10,"c":"B"},{"x":95,"y":10,"c":"B"},{"x":100,"y":10,"c":"B"},{"x":105,"y":10,"c":"A"},{"x":110,"y":10,"c":"A"},{"x":115,"y":10,"c":"A"},{"x":125,"y":10,"c":"A"},{"x":130,"y":10,"c":"A"},{"x":135,"y":10,"c":"A"},{"x":140,"y":10,"c":"A"},{"x":145,"y":10,"c":"A"},{"x":150,"y":10,"c":"A"},{"x":155,"y":10,"c":"A"},{"x":160,"y":10,"c":"A"},{"x":165,"y":10,"c":"A"},{"x":170,"y":10,"c":"A"},{"x":175,"y":10,"c":"A"},
{"x":0,"y":5,"c":"J"},{"x":5,"y":5,"c":"J"},{"x":10,"y":5,"c":"J"},{"x":15,"y":5,"c":"F"},{"x":20,"y":5,"c":"F"},{"x":25,"y":5,"c":"G"},{"x":30,"y":5,"c":"G"},{"x":35,"y":5,"c":"D"},{"x":40,"y":5,"c":"A"},{"x":45,"y":5,"c":"C"},{"x":50,"y":5,"c":"C"},{"x":55,"y":5,"c":"C"},{"x":60,"y":5,"c":"C"},{"x":65,"y":5,"c":"C"},{"x":70,"y":5,"c":"B"},{"x":75,"y":5,"c":"B"},{"x":80,"y":5,"c":"B"},{"x":85,"y":5,"c":"B"},{"x":90,"y":5,"c":"A"},{"x":135,"y":5,"c":"A"},{"x":140,"y":5,"c":"A"},{"x":145,"y":5,"c":"A"},{"x":150,"y":5,"c":"A"},{"x":155,"y":5,"c":"A"},{"x":160,"y":5,"c":"A"},{"x":165,"y":5,"c":"A"},{"x":170,"y":5,"c":"A"},{"x":175,"y":5,"c":"A"},
{"x":0,"y":0,"c":"J"},{"x":5,"y":0,"c":"J"},{"x":10,"y":0,"c":"J"},{"x":15,"y":0,"c":"J"},{"x":20,"y":0,"c":"H"},{"x":25,"y":0,"c":"J"},{"x":30,"y":0,"c":"I"},{"x":35,"y":0,"c":"B"},{"x":40,"y":0,"c":"A"},{"x":145,"y":0,"c":"A"},{"x":150,"y":0,"c":"A"},{"x":155,"y":0,"c":"A"},{"x":160,"y":0,"c":"A"},{"x":165,"y":0,"c":"A"},{"x":170,"y":0,"c":"A"},{"x":175,"y":0,"c":"A"}
]},
"hconcat":[
{"width":285.6,"height":284.6,"resolve":{"axis":{"x":"independent","y":"independent"}},"layer":[
{"data":{"name":"energy"},"mark":{"type":"rect","strokeWidth":0.7,"binSpacing":0},"encoding":{
"x":{"field":"x","type":"quantitative","bin":{"step":5,"extent":[0,180]},"scale":{"domain":[0,180]},"axis":{"orient":"bottom","title":"θ₁ [deg]","values":[0,10,20,30,40,50,60,70,80,90,100,110,120,130,140,150,160,170,180],"labelExpr":"datum.value%30==0?datum.value:''","tickSize":{"condition":{"test":"datum.value%30==0","value":-11},"value":-6},"grid":false,"domainColor":"#222","tickColor":"#222","labelColor":"#000","titleColor":"#000","labelFontSize":15,"titleFontSize":16.5,"titleFontWeight":"normal","labelPadding":17,"titlePadding":-4,"labelOverlap":false,"labelFlush":false}},
"y":{"field":"y","type":"quantitative","bin":{"step":5,"extent":[0,180]},"scale":{"domain":[0,180]},"axis":{"orient":"left","title":"θ₂ [deg]","values":[0,10,20,30,40,50,60,70,80,90,100,110,120,130,140,150,160,170,180],"labelExpr":"datum.value%30==0?datum.value:''","tickSize":{"condition":{"test":"datum.value%30==0","value":-11},"value":-6},"grid":false,"domainColor":"#222","tickColor":"#222","labelColor":"#000","titleColor":"#000","labelFontSize":15,"titleFontSize":16.5,"titleFontWeight":"normal","labelPadding":15,"titlePadding":-2,"labelOverlap":false,"labelFlush":false}},
"fill":{"field":"c","type":"nominal","scale":{"domain":["A","B","C","D","E","F","G","H","I","J"],"range":["#000000","#1c0030","#000a5c","#003366","#0066cc","#0080ff","#0099ff","#00ffff","#80ccff","#e0e0e0"]},"legend":{"orient":"none","legendX":293,"legendY":2,"title":null,"symbolType":"M0,-8.5H32.5V8.5H0Z","symbolSize":4,"symbolStrokeWidth":0,"labelFontSize":14,"labelColor":"#000","labelAlign":"center","labelOffset":58,"rowPadding":5.7,"labelExpr":"{'A':'107 - 119','B':'97 - 107','C':'86 - 97','D':'75 - 86','E':'64 - 75','F':'53 - 64','G':'43 - 53','H':'32 - 43','I':'21 - 32','J':'10 - 21'}[datum.value]"}},
"stroke":{"field":"c","type":"nominal","scale":{"domain":["A","B","C","D","E","F","G","H","I","J"],"range":["#000000","#1c0030","#000a5c","#003366","#0066cc","#0080ff","#0099ff","#00ffff","#80ccff","#e0e0e0"]},"legend":null}}},
{"data":{"values":[{"x":0,"y":0}]},"mark":{"type":"point","opacity":0},"encoding":{
"x":{"field":"x","type":"quantitative","scale":{"domain":[0,180]},"axis":{"orient":"top","title":null,"labels":false,"values":[0,10,20,30,40,50,60,70,80,90,100,110,120,130,140,150,160,170,180],"tickSize":{"condition":{"test":"datum.value%30==0","value":-11},"value":-6},"grid":false,"domainColor":"#222","tickColor":"#222"}},
"y":{"field":"y","type":"quantitative","scale":{"domain":[0,180]},"axis":{"orient":"right","title":null,"labels":false,"values":[0,10,20,30,40,50,60,70,80,90,100,110,120,130,140,150,160,170,180],"tickSize":{"condition":{"test":"datum.value%30==0","value":-11},"value":-6},"grid":false,"domainColor":"#222","tickColor":"#222"}}}},
{"data":{"values":[{"t":"E","x":66.8,"y":191.2,"s":15.5},{"t":"1","x":73.1,"y":187.4,"s":10.5},{"t":"3NF","x":73.1,"y":195.9,"s":11},{"t":"[MeV]","x":87,"y":191.2,"s":15.5}]},"mark":{"type":"text","align":"left","baseline":"alphabetic","color":"#000"},"encoding":{"x":{"field":"x","type":"quantitative","axis":null},"y":{"field":"y","type":"quantitative","axis":null},"text":{"field":"t"},"size":{"field":"s","type":"quantitative","scale":null,"legend":null}}}
]},
{"width":285,"height":284.6,"resolve":{"axis":{"x":"independent","y":"independent"}},"layer":[
{"data":{"name":"phi"},"mark":{"type":"rect","strokeWidth":0.7,"binSpacing":0},"encoding":{
"x":{"field":"x","type":"quantitative","bin":{"step":5,"extent":[0,180]},"scale":{"domain":[0,180]},"axis":{"orient":"bottom","title":"θ₁ [deg]","values":[0,10,20,30,40,50,60,70,80,90,100,110,120,130,140,150,160,170,180],"labelExpr":"datum.value%30==0?datum.value:''","tickSize":{"condition":{"test":"datum.value%30==0","value":-11},"value":-6},"grid":false,"domainColor":"#222","tickColor":"#222","labelColor":"#000","titleColor":"#000","labelFontSize":15,"titleFontSize":16.5,"titleFontWeight":"normal","labelPadding":17,"titlePadding":-4,"labelOverlap":false,"labelFlush":false}},
"y":{"field":"y","type":"quantitative","bin":{"step":5,"extent":[0,180]},"scale":{"domain":[0,180]},"axis":{"orient":"left","title":"θ₂ [deg]","values":[0,10,20,30,40,50,60,70,80,90,100,110,120,130,140,150,160,170,180],"labelExpr":"datum.value%30==0?datum.value:''","tickSize":{"condition":{"test":"datum.value%30==0","value":-11},"value":-6},"grid":false,"domainColor":"#222","tickColor":"#222","labelColor":"#000","titleColor":"#000","labelFontSize":15,"titleFontSize":16.5,"titleFontWeight":"normal","labelPadding":15,"titlePadding":-2,"labelOverlap":false,"labelFlush":false}},
"fill":{"field":"c","type":"nominal","scale":{"domain":["A","B","C","D","E","F","G","H","I","J"],"range":["#000000","#1c0030","#000a5c","#003366","#0066cc","#0080ff","#0099ff","#00ffff","#80ccff","#e0e0e0"]},"legend":{"orient":"none","legendX":293.4,"legendY":2,"title":null,"symbolType":"M0,-8.5H32.5V8.5H0Z","symbolSize":4,"symbolStrokeWidth":0,"labelFontSize":14,"labelColor":"#000","labelAlign":"center","labelOffset":65.5,"rowPadding":5.7,"labelExpr":"{'A':'160 - 180','B':'142.5 - 160','C':'125 - 142.5','D':'107.5 - 125','E':'90 - 107.5','F':'72.5 - 90','G':'55.0 - 72.5','H':'37.5 - 55.0','I':'20 - 37.5','J':'2.5 - 20'}[datum.value]"}},
"stroke":{"field":"c","type":"nominal","scale":{"domain":["A","B","C","D","E","F","G","H","I","J"],"range":["#000000","#1c0030","#000a5c","#003366","#0066cc","#0080ff","#0099ff","#00ffff","#80ccff","#e0e0e0"]},"legend":null}}},
{"data":{"values":[{"x":0,"y":0}]},"mark":{"type":"point","opacity":0},"encoding":{
"x":{"field":"x","type":"quantitative","scale":{"domain":[0,180]},"axis":{"orient":"top","title":null,"labels":false,"values":[0,10,20,30,40,50,60,70,80,90,100,110,120,130,140,150,160,170,180],"tickSize":{"condition":{"test":"datum.value%30==0","value":-11},"value":-6},"grid":false,"domainColor":"#222","tickColor":"#222"}},
"y":{"field":"y","type":"quantitative","scale":{"domain":[0,180]},"axis":{"orient":"right","title":null,"labels":false,"values":[0,10,20,30,40,50,60,70,80,90,100,110,120,130,140,150,160,170,180],"tickSize":{"condition":{"test":"datum.value%30==0","value":-11},"value":-6},"grid":false,"domainColor":"#222","tickColor":"#222"}}}},
{"data":{"values":[{"t":"ϕ","x":69.7,"y":191.2,"s":15.5},{"t":"12","x":75.4,"y":187.4,"s":10.5},{"t":"3NF","x":76.9,"y":195.9,"s":11},{"t":"[deg]","x":90.6,"y":191.2,"s":15.5}]},"mark":{"type":"text","align":"left","baseline":"alphabetic","color":"#000"},"encoding":{"x":{"field":"x","type":"quantitative","axis":null},"y":{"field":"y","type":"quantitative","axis":null},"text":{"field":"t"},"size":{"field":"s","type":"quantitative","scale":null,"legend":null}}}
]}
]}
